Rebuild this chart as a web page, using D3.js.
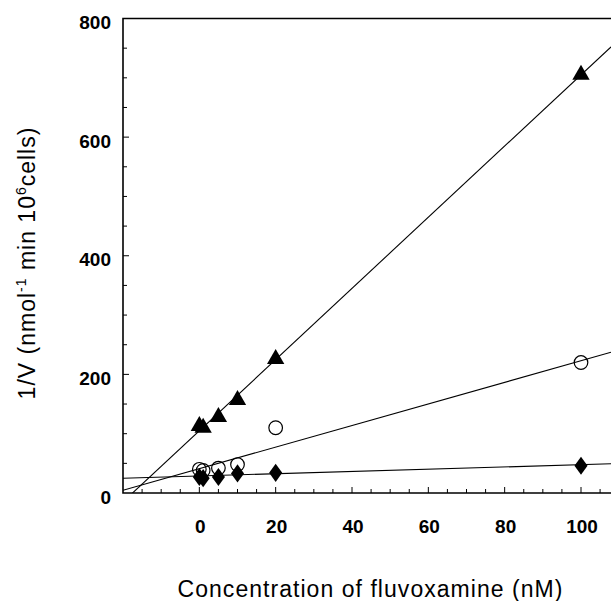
<!DOCTYPE html>
<html>

<head>
    <title>Lineweaver-Burk fluvoxamine</title>
    <script src="https://d3js.org/d3.v7.min.js"></script>
    <style>
        body { margin: 0; background: #fff; }
        text { font-family: "Liberation Sans", Arial, sans-serif; fill: #000; }
    </style>
</head>

<body>

    <svg width="611" height="601" id="mainSvg"></svg>
    <script>
        // data
        const concs = [0, 1, 5, 10, 20, 100];
        const triangleVals = [113, 110, 128, 157, 226, 705];
        const circleVals = [40, 38, 42, 48, 110, 220];
        const diamondVals = [27, 25, 27, 33, 34, 46];
        // regression lines: [intercept, slope]
        const triangleFit = [105, 6.0];
        const circleFit = [41, 1.82];
        const diamondFit = [28.7, 0.19];
        const xTicks = [0, 20, 40, 60, 80, 100];
        const yTicks = [0, 200, 400, 600, 800];

        const svg = d3.select('#mainSvg');
        const plotLeft = 123, plotTop = 18.5, plotBottom = 493;

        const x = d3.scaleLinear().domain([-20, 100]).range([123, 581]);
        const y = d3.scaleLinear().domain([0, 800]).range([plotBottom, plotTop]);
        const xMax = x.invert(611);

        const g = svg.append("g");

        // frame (right side falls off the picture)
        g.append("path")
            .attr("d", `M${x(xMax) + 10},${plotTop}H${plotLeft}V${plotBottom}H${x(xMax) + 10}`)
            .attr("fill", "none").attr("stroke", "#000").attr("stroke-width", 1.6);

        // minor ticks, pointing inwards
        const xMinor = d3.range(-15, xMax, 5);
        g.selectAll(".xt").data(xMinor).join("line")
            .attr("x1", d => x(d)).attr("x2", d => x(d))
            .attr("y1", plotBottom).attr("y2", d => plotBottom - (d % 20 === 0 ? 6 : 4))
            .attr("stroke", "#000").attr("stroke-width", 1);
        const yMinor = d3.range(50, 800, 50);
        g.selectAll(".yt").data(yMinor).join("line")
            .attr("x1", plotLeft).attr("x2", d => plotLeft + (d % 200 === 0 ? 6 : 4))
            .attr("y1", d => y(d)).attr("y2", d => y(d))
            .attr("stroke", "#000").attr("stroke-width", 1);

        g.selectAll(".xl").data(xTicks).join("text")
            .attr("x", d => x(d) + 1).attr("y", 533)
            .attr("text-anchor", "middle").attr("font-size", 19).attr("font-weight", "bold")
            .text(d => d);
        g.selectAll(".yl").data(yTicks).join("text")
            .attr("x", 111).attr("y", d => y(d) + 10.5)
            .attr("text-anchor", "end").attr("font-size", 19).attr("font-weight", "bold")
            .text(d => d);

        // fitted lines, clipped to the plot
        svg.append("clipPath").attr("id", "plotClip")
            .append("rect").attr("x", plotLeft).attr("y", plotTop).attr("width", 611 - plotLeft).attr("height", plotBottom - plotTop);
        const lines = g.append("g").attr("clip-path", "url(#plotClip)");
        [triangleFit, circleFit, diamondFit].forEach(f => {
            lines.append("line")
                .attr("x1", x(-20)).attr("y1", y(f[0] + f[1] * -20))
                .attr("x2", x(xMax)).attr("y2", y(f[0] + f[1] * xMax))
                .attr("stroke", "#000").attr("stroke-width", 1.1);
        });

        // markers
        const tri = d3.symbol().type(d3.symbolTriangle).size(130);
        const dia = d3.symbol().type(d3.symbolDiamond).size(95);
        g.selectAll(".dia").data(concs).join("path")
            .attr("d", dia)
            .attr("transform", (d, i) => `translate(${x(d)},${y(diamondVals[i])}) scale(1.25,1)`)
            .attr("fill", "#000");
        g.selectAll(".circ").data(concs).join("circle")
            .attr("cx", d => x(d)).attr("cy", (d, i) => y(circleVals[i])).attr("r", 6.8)
            .attr("fill", "none").attr("stroke", "#000").attr("stroke-width", 1.2);
        g.selectAll(".tri").data(concs).join("path")
            .attr("d", tri)
            .attr("transform", (d, i) => `translate(${x(d)},${y(triangleVals[i])})`)
            .attr("fill", "#000");

        // axis titles
        svg.append("text")
            .attr("x", 370).attr("y", 597)
            .attr("text-anchor", "middle").attr("font-size", 23)
            .attr("textLength", 385).attr("lengthAdjust", "spacing")
            .text("Concentration of fluvoxamine (nM)");

        const yt = svg.append("text")
            .attr("transform", "translate(35,263) rotate(-90)")
            .attr("text-anchor", "middle").attr("font-size", 23)
            .attr("letter-spacing", 1);
        yt.append("tspan").text("1/V (nmol");
        yt.append("tspan").attr("dy", -9).attr("font-size", 14).text("-1");
        yt.append("tspan").attr("dy", 9).text(" min 10");
        yt.append("tspan").attr("dy", -9).attr("font-size", 14).text("6");
        yt.append("tspan").attr("dy", 9).text("cells)");
    </script>
</body>

</html>
